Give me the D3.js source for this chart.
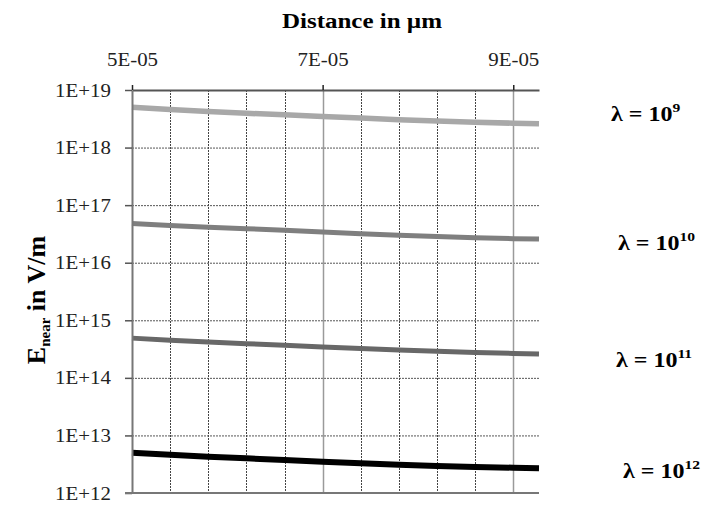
<!DOCTYPE html>
<html>
<head>
<meta charset="utf-8">
<script src="https://cdn.jsdelivr.net/npm/d3@7"></script>
<style>
  body { margin: 0; background: #fff; }
  svg { display: block; }
  text { font-family: "Liberation Serif", "Times New Roman", serif; }
</style>
</head>
<body>
<div id="chart"></div>
<script>
// distance (in the units of the top axis)
var distances = [5.0e-5, 5.4e-5, 5.8e-5, 6.2e-5, 6.6e-5, 7.0e-5, 7.4e-5, 7.8e-5, 8.2e-5, 8.6e-5, 9.0e-5, 9.27e-5];

// E_near for each lambda
var lambda9 = [5.0e18, 4.6e18, 4.25e18, 3.95e18, 3.7e18, 3.45e18, 3.25e18, 3.05e18, 2.9e18, 2.75e18, 2.65e18, 2.6e18];
var lambda10 = [4.8e16, 4.45e16, 4.15e16, 3.9e16, 3.65e16, 3.4e16, 3.2e16, 3.0e16, 2.85e16, 2.72e16, 2.62e16, 2.58e16];
var lambda11 = [4.9e14, 4.5e14, 4.2e14, 3.92e14, 3.68e14, 3.45e14, 3.25e14, 3.05e14, 2.9e14, 2.76e14, 2.66e14, 2.6e14];
var lambda12 = [5.0e12, 4.6e12, 4.28e12, 4.0e12, 3.75e12, 3.5e12, 3.3e12, 3.1e12, 2.95e12, 2.82e12, 2.75e12, 2.7e12];

var seriesNames = ['9', '10', '11', '12'];
var seriesValues = [lambda9, lambda10, lambda11, lambda12];

var xMajorTicks = [5e-5, 7e-5, 9e-5];
var xMinorTicks = [5.4e-5, 5.8e-5, 6.2e-5, 6.6e-5, 7.4e-5, 7.8e-5, 8.2e-5, 8.6e-5];
var yTicks = [1e12, 1e13, 1e14, 1e15, 1e16, 1e17, 1e18, 1e19];

var width = 705, height = 508;
var margin = { left: 132, right: 166, top: 90, bottom: 15 };
var stretch = 1.1; // the reference text is a bit wide

var svg = d3.select('#chart').append('svg')
    .attr('width', width)
    .attr('height', height);

var x = d3.scaleLinear()
    .domain([5e-5, 9.27e-5])
    .range([margin.left, width - margin.right]);

var y = d3.scaleLog()
    .domain([1e12, 1e19])
    .range([height - margin.bottom, margin.top]);

function sciX(v) {
    var exp = Math.round(Math.log10(v)) - 1;
    var m = Math.round(v / Math.pow(10, exp));
    if (m >= 10) { m = m / 10; exp += 1; }
    return m + 'E-' + d3.format('02d')(-exp);
}
function sciY(v) {
    return '1E+' + Math.round(Math.log10(v));
}

// gridlines
var grid = svg.append('g');
grid.selectAll('.hgrid')
    .data(yTicks.slice(1, -1))
    .enter().append('line')
    .attr('x1', x.range()[0]).attr('x2', x.range()[1])
    .attr('y1', function (d) { return y(d) + 0.5; })
    .attr('y2', function (d) { return y(d) + 0.5; })
    .attr('stroke', '#555')
    .attr('stroke-width', 1)
    .attr('stroke-dasharray', '2,1');

grid.selectAll('.vminor')
    .data(xMinorTicks)
    .enter().append('line')
    .attr('x1', function (d) { return Math.round(x(d)) + 0.5; })
    .attr('x2', function (d) { return Math.round(x(d)) + 0.5; })
    .attr('y1', y.range()[1]).attr('y2', y.range()[0])
    .attr('stroke', '#444')
    .attr('stroke-width', 1)
    .attr('stroke-dasharray', '2,1');

grid.selectAll('.vmajor')
    .data(xMajorTicks.slice(1))
    .enter().append('line')
    .attr('x1', function (d) { return Math.round(x(d)) + 0.5; })
    .attr('x2', function (d) { return Math.round(x(d)) + 0.5; })
    .attr('y1', y.range()[1]).attr('y2', y.range()[0])
    .attr('stroke', '#9a9a9a')
    .attr('stroke-width', 1.5);

// series lines
var colors = ['#a8a8a8', '#7f7f7f', '#686868', '#000000'];
var widths = [5.5, 5, 5, 6];
var line = d3.line()
    .x(function (d) { return x(d[0]); })
    .y(function (d) { return y(d[1]); });

seriesValues.forEach(function (vals, i) {
    svg.append('path')
        .datum(distances.map(function (d, j) { return [d, vals[j]]; }))
        .attr('fill', 'none')
        .attr('stroke', colors[i])
        .attr('stroke-width', widths[i])
        .attr('d', line);
});

// axes
var xAxis = svg.append('g')
    .attr('transform', 'translate(0,' + margin.top + ')')
    .call(d3.axisTop(x).tickValues(xMajorTicks).tickFormat(sciX).tickSizeInner(5).tickSizeOuter(0));
xAxis.select('.domain').attr('stroke', '#555').attr('stroke-width', 2);
xAxis.selectAll('.tick line').attr('stroke', '#222').attr('stroke-width', 1.5);
xAxis.selectAll('.tick text')
    .attr('y', -24)
    .attr('fill', '#222')
    .attr('transform', 'scale(' + stretch + ',1)')
    .style('font-size', '19px')
    .style('font-family', '"Liberation Serif", serif');

var yAxis = svg.append('g')
    .attr('transform', 'translate(' + margin.left + ',0)')
    .call(d3.axisLeft(y).tickValues(yTicks).tickFormat(sciY).tickSizeInner(7).tickSizeOuter(0));
yAxis.select('.domain').attr('stroke', '#777').attr('stroke-width', 2);
yAxis.selectAll('.tick line').attr('stroke', '#555').attr('stroke-width', 1.5);
yAxis.selectAll('.tick text')
    .attr('x', -21 / stretch)
    .attr('fill', '#222')
    .attr('transform', 'scale(' + stretch + ',1)')
    .style('font-size', '19px')
    .style('font-family', '"Liberation Serif", serif');

// bottom border line
svg.append('line')
    .attr('x1', x.range()[0] - 7).attr('x2', x.range()[1])
    .attr('y1', y(1e12)).attr('y2', y(1e12))
    .attr('stroke', '#777')
    .attr('stroke-width', 2);

// titles
svg.append('text')
    .attr('transform', 'translate(362,28) scale(1.25,1)')
    .attr('text-anchor', 'middle')
    .style('font-size', '20px')
    .style('font-weight', 'bold')
    .text('Distance in µm');

var yTitle = svg.append('text')
    .attr('transform', 'translate(45,300) rotate(-90)')
    .attr('text-anchor', 'middle')
    .style('font-size', '26px')
    .style('font-weight', 'bold');
yTitle.append('tspan').text('E');
yTitle.append('tspan').attr('dy', 5).style('font-size', '15px').text('near');
yTitle.append('tspan').attr('dy', -5).text(' in V/m');

// lambda labels
var labelPos = [[611, 121], [618, 250], [616, 367], [623, 478]];
seriesNames.forEach(function (n, i) {
    var t = svg.append('text')
        .attr('transform', 'translate(' + labelPos[i][0] + ',' + labelPos[i][1] + ') scale(1.2,1)')
        .style('font-size', '20px')
        .style('font-weight', 'bold');
    t.append('tspan').text('λ = 10');
    t.append('tspan').attr('dy', -9).style('font-size', '13px').text(n);
});
</script>
</body>
</html>
